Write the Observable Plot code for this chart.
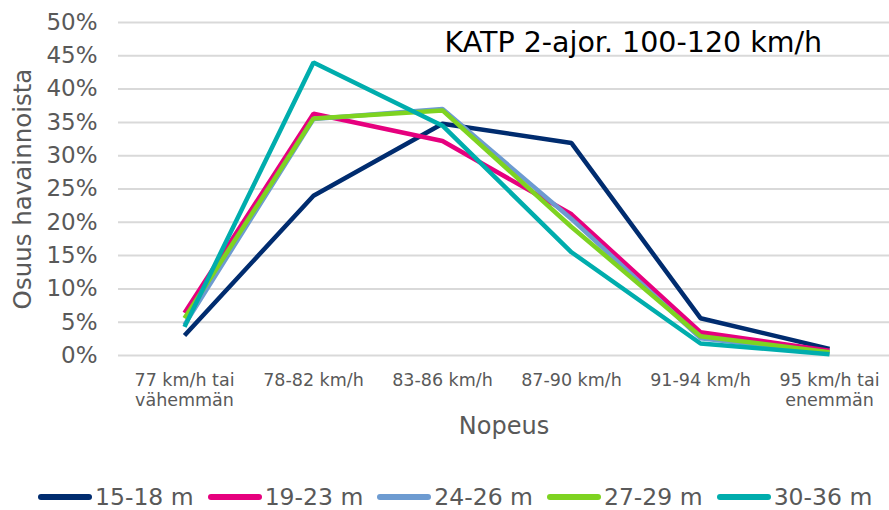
<!DOCTYPE html>
<html><head><meta charset="utf-8">
<script src="https://cdn.jsdelivr.net/npm/d3@7"></script>
<script src="https://cdn.jsdelivr.net/npm/@observablehq/plot@0.6"></script>
<style>
body{margin:0;background:#fff;font-family:"DejaVu Sans",Verdana,sans-serif;overflow:hidden;}
#chart svg{display:block;}
#legend{box-sizing:border-box;display:flex;justify-content:flex-start;align-items:center;gap:14px;height:32px;padding-top:6px;padding-left:38px;font-family:"DejaVu Sans",sans-serif;font-size:23.5px;line-height:22px;color:#595959;}
.item{display:flex;align-items:center;}
.sw{width:54px;height:6px;border-radius:3px;margin-right:3px;}
</style></head>
<body>
<div id="chart"></div>
<div id="legend"></div>
<script>
const categories = ["77 km/h tai\nvähemmän","78-82 km/h","83-86 km/h","87-90 km/h","91-94 km/h","95 km/h tai\nenemmän"];
const seriesNames = ["15-18 m","19-23 m","24-26 m","27-29 m","30-36 m"];
const colors = ["#002C6F","#E6007E","#6D9BD1","#7ED321","#00ADAD"];
const s15_18 = [0.030,0.240,0.348,0.319,0.056,0.010];
const s19_23 = [0.064,0.363,0.322,0.212,0.035,0.007];
const s24_26 = [0.046,0.355,0.370,0.205,0.026,0.004];
const s27_29 = [0.056,0.356,0.368,0.193,0.029,0.005];
const s30_36 = [0.043,0.440,0.345,0.155,0.018,0.002];
const yTicks = [0,0.05,0.1,0.15,0.2,0.25,0.3,0.35,0.4,0.45,0.5];
const title = "KATP 2-ajor. 100-120 km/h";
const yTitle = "Osuus havainnoista";
const xTitle = "Nopeus";

const allSeries = [s15_18,s19_23,s24_26,s27_29,s30_36];
const data = allSeries.flatMap((vals,i)=>vals.map((v,j)=>({series:seriesNames[i],cat:categories[j],value:v})));

const chart = Plot.plot({
  width: 889, height: 478,
  marginLeft: 118, marginRight: 0, marginTop: 22, marginBottom: 123,
  style: {fontFamily:"DejaVu Sans, Verdana, sans-serif", color:"#595959", background:"#fff"},
  x: {type:"point", domain: categories, padding:0, insetLeft: 65, insetRight: 59, axis:null},
  y: {domain:[0,0.5], axis:null},
  color: {domain: seriesNames, range: colors},
  marks: [
    Plot.ruleY(yTicks, {stroke:"#d9d9d9", strokeWidth:2}),
    Plot.text(yTicks, {y: d=>d, frameAnchor:"left", dx:-21, textAnchor:"end", text: d=>Math.round(d*100)+"%", fontSize:23, fill:"#595959"}),
    Plot.text(categories, {x: d=>d, frameAnchor:"bottom", dy:16, lineAnchor:"top", lineHeight:1.15, text: d=>d, fontSize:17.5, fill:"#595959"}),
    Plot.line(data, {x:"cat", y:"value", z:"series", stroke:"series", strokeWidth:4.5, strokeLinejoin:"miter", strokeLinecap:"butt"}),
    Plot.text([title], {frameAnchor:"top-left", dx:326, dy:29, textAnchor:"start", lineAnchor:"bottom", fontSize:28.5, fill:"#000"}),
    Plot.text([yTitle], {frameAnchor:"left", rotate:-90, textAnchor:"middle", dx:-95, dy:0, fontSize:24.5, fill:"#595959"}),
    Plot.text([xTitle], {frameAnchor:"bottom", dy:78, fontSize:24, fill:"#595959"})
  ]
});
document.getElementById("chart").appendChild(chart);

const legend = document.getElementById("legend");
seriesNames.forEach((n,i)=>{
  const it=document.createElement("div");it.className="item";
  const sw=document.createElement("span");sw.className="sw";sw.style.background=colors[i];
  const t=document.createElement("span");t.textContent=n;
  it.appendChild(sw);it.appendChild(t);legend.appendChild(it);
});
</script>
</body></html>
